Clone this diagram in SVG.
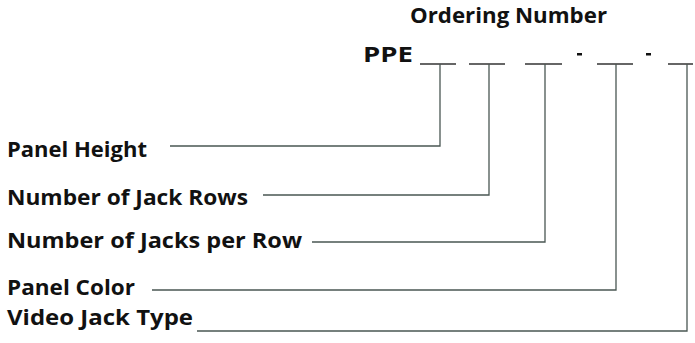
<svg xmlns="http://www.w3.org/2000/svg" width="695" height="343" viewBox="0 0 695 343">
<style>
text{font-family:"Open Sans","Noto Sans","DejaVu Sans",sans-serif;font-weight:700;font-size:21.5px;fill:#111}
.ln{fill:none;stroke:#4a5753;stroke-width:1.3}
.bl{fill:none;stroke:#333;stroke-width:1.5}
.dash{fill:#111}
</style>
<rect width="695" height="343" fill="#fff"/>
<g id="title"><text x="410" y="23" textLength="197" lengthAdjust="spacingAndGlyphs">Ordering Number</text></g>
<g id="code">
<text x="363" y="62" textLength="50" lengthAdjust="spacingAndGlyphs">PPE</text>
<line class="bl" x1="420" y1="64" x2="456" y2="64"/>
<line class="bl" x1="469" y1="64" x2="505" y2="64"/>
<line class="bl" x1="525" y1="64" x2="562" y2="64"/>
<rect class="dash" x="577" y="53" width="5" height="2.5"/>
<line class="bl" x1="597" y1="64" x2="633" y2="64"/>
<rect class="dash" x="646" y="53" width="5" height="2.5"/>
<line class="bl" x1="668" y1="64" x2="693" y2="64"/>
</g>
<g id="n1"><text x="7" y="157" textLength="140" lengthAdjust="spacingAndGlyphs">Panel Height</text></g>
<g id="n2"><text x="7" y="205" textLength="241" lengthAdjust="spacingAndGlyphs">Number of Jack Rows</text></g>
<g id="n3"><text x="7" y="248" textLength="295" lengthAdjust="spacingAndGlyphs">Number of Jacks per Row</text></g>
<g id="n4"><text x="7" y="295" textLength="128" lengthAdjust="spacingAndGlyphs">Panel Color</text></g>
<g id="n5"><text x="7" y="325" textLength="186" lengthAdjust="spacingAndGlyphs">Video Jack Type</text></g>
<g id="connectors">
<polyline class="ln" points="170,146 440,146 440,64"/>
<polyline class="ln" points="263,195 489,195 489,64"/>
<polyline class="ln" points="312,242 545,242 545,64"/>
<polyline class="ln" points="152,290 616,290 616,64"/>
<polyline class="ln" points="197,331 687,331 687,64"/>
</g>
</svg>
